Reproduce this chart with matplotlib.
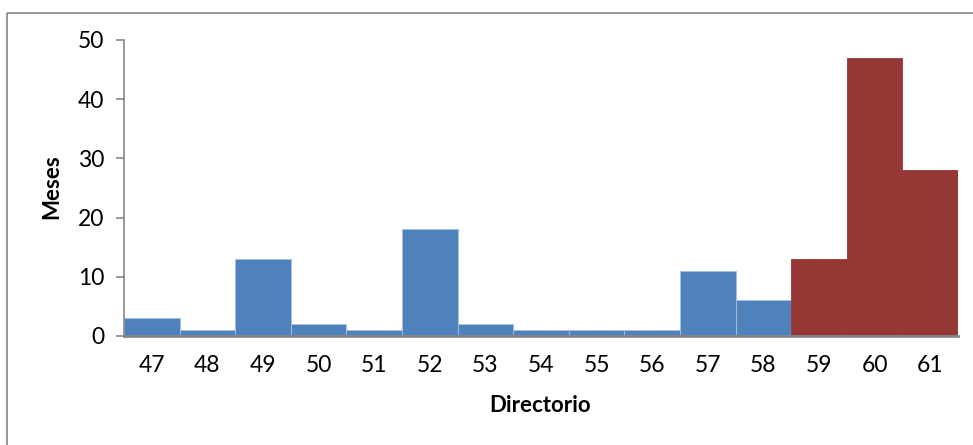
import matplotlib
matplotlib.use("Agg")
import matplotlib.pyplot as plt
from matplotlib.patches import Rectangle

categories = ["47", "48", "49", "50", "51", "52", "53", "54", "55", "56", "57", "58", "59", "60", "61"]
values = [3, 1, 13, 2, 1, 18, 2, 1, 1, 1, 11, 6, 13, 47, 28]
highlight = ["59", "60", "61"]
yticks = [0, 10, 20, 30, 40, 50]

blue = "#4F81BD"
red = "#953735"
colors = [red if c in highlight else blue for c in categories]

plt.rcParams['font.family'] = ['Lato', 'DejaVu Sans']

W, H = 973, 445
fig = plt.figure(figsize=(W / 100, H / 100), dpi=100)
left, right, top, bottom = 124, 958, 40, 336
ax = fig.add_axes([left / W, 1 - bottom / H, (right - left) / W, (bottom - top) / H])

x = list(range(len(categories)))
ax.bar(x, values, width=1.0, color=colors,
       edgecolor=[("#A7C0E0" if c == blue else c) for c in colors], linewidth=0.6, zorder=2)
ax.set_xlim(-0.5, len(categories) - 0.5)
ax.set_ylim(0, 50)
ax.set_xticks(x)
ax.set_xticklabels(categories, fontsize=16.5)
ax.set_yticks(yticks)
ax.set_yticklabels([str(v) for v in yticks], fontsize=16.5)
ax.tick_params(axis='x', length=0, pad=14)
ax.tick_params(axis='y', length=6, color="#868686", width=1.2, pad=8)
for s in ['top', 'right']:
    ax.spines[s].set_visible(False)
ax.spines['left'].set_color("#868686")
ax.spines['bottom'].set_color("#868686")
ax.spines['left'].set_linewidth(1.2)
ax.spines['bottom'].set_linewidth(2)
ax.spines['bottom'].set_zorder(3)

fig.text(540 / W, 1 - 405 / H, "Directorio", fontsize=16, fontweight='bold', ha='center', va='center')
fig.text(52 / W, 1 - 187 / H, "Meses", fontsize=16, fontweight='bold', ha='center', va='center', rotation=90)

frame = Rectangle((7 / W, 1 - 13 / H), 2, -2, transform=fig.transFigure, fill=False,
                  edgecolor="#868686", linewidth=1.2)
fig.patches.append(frame)

fig.savefig("out.png", dpi=100)
